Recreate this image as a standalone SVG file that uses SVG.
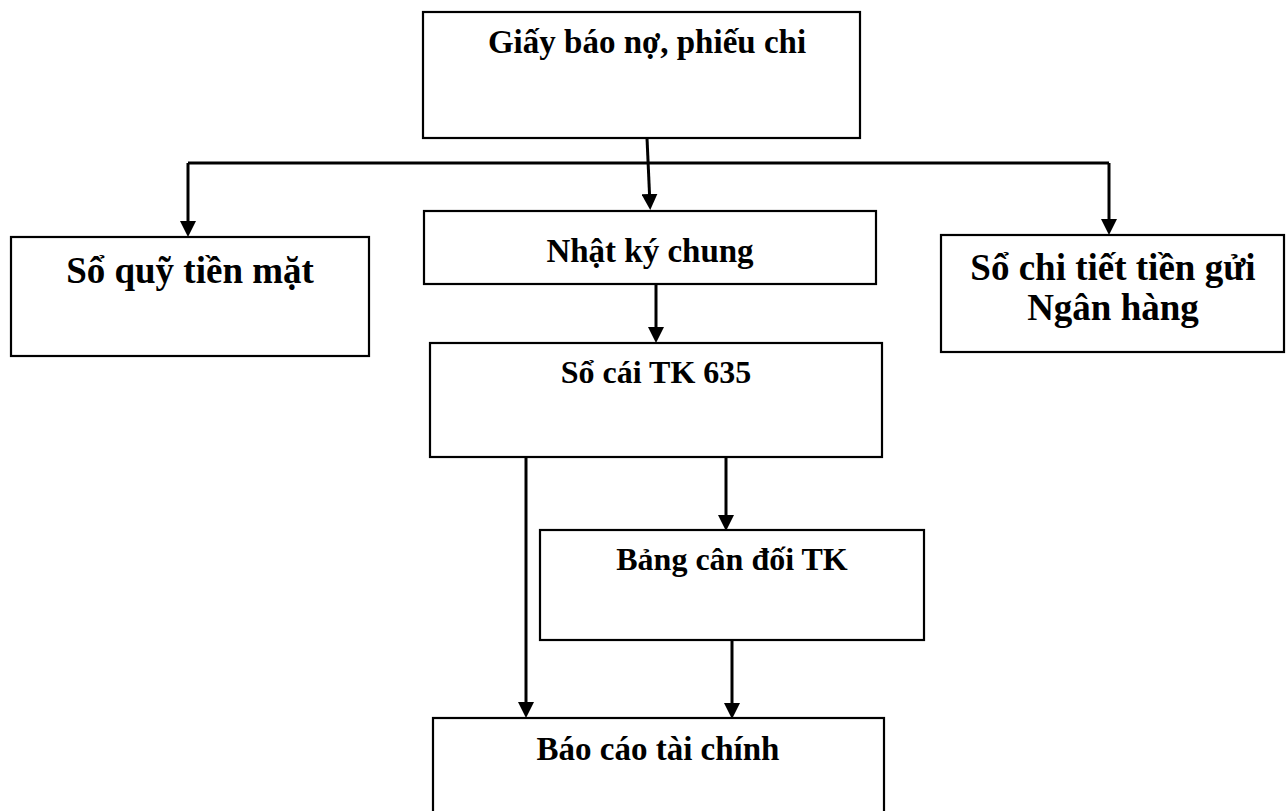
<svg xmlns="http://www.w3.org/2000/svg" width="1286" height="811" viewBox="0 0 1286 811">
  <style>
    .box { fill: #ffffff; stroke: #000000; stroke-width: 2.2; }
    .lbl { font-family: "Liberation Serif", "Times New Roman", serif; font-weight: bold; fill: #000000; text-anchor: middle; }
    .wire { fill: none; stroke: #000000; stroke-width: 3; }
  </style>
  <defs>
    <marker id="arrow" markerUnits="userSpaceOnUse" markerWidth="16" markerHeight="16" refX="11" refY="8" orient="auto">
      <path d="M0,0 L16,8 L0,16 Z" fill="#000000"/>
    </marker>
  </defs>

  <rect width="1286" height="811" fill="#ffffff"/>

  <!-- connectors -->
  <g id="connectors">
    <path class="wire" d="M188,163 H1109"/>
    <path class="wire" d="M188,163 V232" marker-end="url(#arrow)"/>
    <path class="wire" d="M1109,163 V230" marker-end="url(#arrow)"/>
    <path class="wire" d="M647,138 L650,205" marker-end="url(#arrow)"/>
    <path class="wire" d="M656,284 V338" marker-end="url(#arrow)"/>
    <path class="wire" d="M526,457 V713" marker-end="url(#arrow)"/>
    <path class="wire" d="M726,457 V526" marker-end="url(#arrow)"/>
    <path class="wire" d="M732,641 V714" marker-end="url(#arrow)"/>
  </g>

  <!-- nodes -->
  <g id="giay-bao-no">
    <rect class="box" x="423" y="12" width="437" height="126"/>
    <text class="lbl" x="647" y="53" font-size="33">Giấy báo nợ, phiếu chi</text>
  </g>

  <g id="so-quy-tien-mat">
    <rect class="box" x="11" y="237" width="358" height="119"/>
    <text class="lbl" x="190" y="283" font-size="37">Sổ quỹ tiền mặt</text>
  </g>

  <g id="nhat-ky-chung">
    <rect class="box" x="424" y="211" width="452" height="73"/>
    <text class="lbl" x="650" y="262" font-size="33">Nhật ký chung</text>
  </g>

  <g id="so-chi-tiet-tien-gui">
    <rect class="box" x="941" y="235" width="343" height="117"/>
    <text class="lbl" x="1113" y="280" font-size="37">Sổ chi tiết tiền gửi</text>
    <text class="lbl" x="1113" y="320" font-size="37">Ngân hàng</text>
  </g>

  <g id="so-cai-tk-635">
    <rect class="box" x="430" y="343" width="452" height="114"/>
    <text class="lbl" x="656" y="383" font-size="32">Sổ cái TK 635</text>
  </g>

  <g id="bang-can-doi-tk">
    <rect class="box" x="540" y="530" width="384" height="110"/>
    <text class="lbl" x="732" y="570" font-size="32">Bảng cân đối TK</text>
  </g>

  <g id="bao-cao-tai-chinh">
    <rect class="box" x="433" y="718" width="451" height="110"/>
    <text class="lbl" x="658" y="760" font-size="33">Báo cáo tài chính</text>
  </g>
</svg>
